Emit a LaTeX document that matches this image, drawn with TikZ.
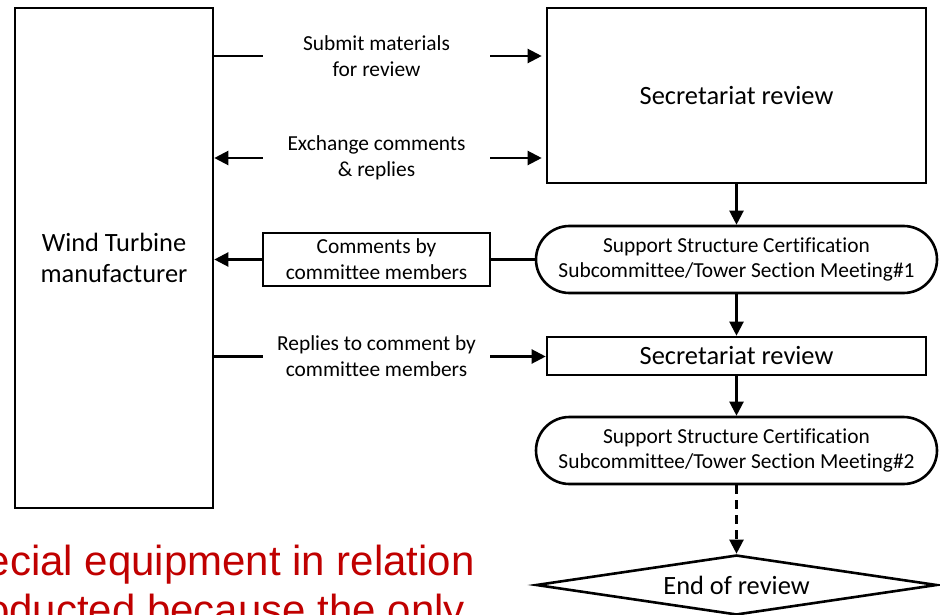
\documentclass[tikz,border=0pt]{standalone}
\usepackage{fontspec}
\setmainfont{Carlito}[Ligatures=NoCommon]
\newfontfamily\arialfont{Liberation Sans}
\usetikzlibrary{arrows.meta,shapes.misc,shapes.geometric}
\definecolor{redtxt}{RGB}{192,0,0}
\begin{document}
\begin{tikzpicture}[x=1pt,y=-1pt,
  box/.style={draw, line width=2.6pt, align=center, inner sep=0pt},
  lbl/.style={align=center, inner sep=0pt, minimum width=227pt},
  small/.style={font=\fontsize{21.4}{25.8}\selectfont},
  big/.style={font=\fontsize{26.4}{31}\selectfont},
  arr/.style={line width=2.2pt, -{Triangle[length=14pt,width=14pt]}},
  ln/.style={line width=2.2pt},
  redline/.style={anchor=base east, inner sep=0pt, text=redtxt, font=\arialfont\fontsize{42}{48}\selectfont}]
\useasboundingbox (0,0) rectangle (940,615);
\clip (0,0) rectangle (940,615);
% nodes
\node[box, big, minimum width=198pt, minimum height=500pt] (wt) at (114,258) {Wind Turbine\\manufacturer};
\node[box, big, minimum width=379pt, minimum height=175pt] (sec1) at (736.5,95.5) {Secretariat review};
\node[box, small, rounded rectangle, minimum width=401pt, minimum height=67pt] (m1) at (736.5,259.5) {Support Structure Certification\\Subcommittee/Tower Section Meeting\#1};
\node[box, small, minimum width=227pt, minimum height=53pt] (cm) at (376.5,259.5) {Comments by\\committee members};
\node[box, big, minimum width=379pt, minimum height=38pt] (sec2) at (736.5,356) {Secretariat review};
\node[box, small, rounded rectangle, minimum width=401pt, minimum height=67pt] (m2) at (736.5,450.5) {Support Structure Certification\\Subcommittee/Tower Section Meeting\#2};
\node[box, big, diamond, aspect=7, minimum width=401pt, minimum height=60pt] (end) at (736.5,585) {End of review};
% labels
\node[lbl, small] (t1) at (376.5,56) {Submit materials\\for review};
\node[lbl, small] (t2) at (376.5,158) {Exchange comments\\\& replies};
\node[lbl, small] (t3) at (376.5,356.5) {Replies to comment by\\committee members};
% connectors
\draw[ln] (wt.east |- t1.west) -- (t1.west);
\draw[arr, shorten >=4pt] (t1.east) -- (sec1.west |- t1.east);
\draw[arr] (t2.west) -- (wt.east |- t2.west);
\draw[arr, shorten >=4pt] (t2.east) -- (sec1.west |- t2.east);
\draw[arr] (cm.west) -- (wt.east |- cm.west);
\draw[ln] (m1.west) -- (cm.east);
\draw[ln] (wt.east |- t3.west) -- (t3.west);
\draw[arr] (t3.east) -- (sec2.west |- t3.east);
\draw[arr] (sec1.south) -- (m1.north);
\draw[arr] (m1.south) -- (sec2.north);
\draw[arr] (sec2.south) -- (m2.north);
\draw[arr, dash pattern=on 9pt off 6pt] (m2.south) -- (end.north);
% red text (cut off by the picture's edges, as in the reference)
\node[redline] (r1) at (475,575) {ecial equipment in relation};
\node[redline] (r2) at (465,624) {oducted because the only};
\end{tikzpicture}
\end{document}
